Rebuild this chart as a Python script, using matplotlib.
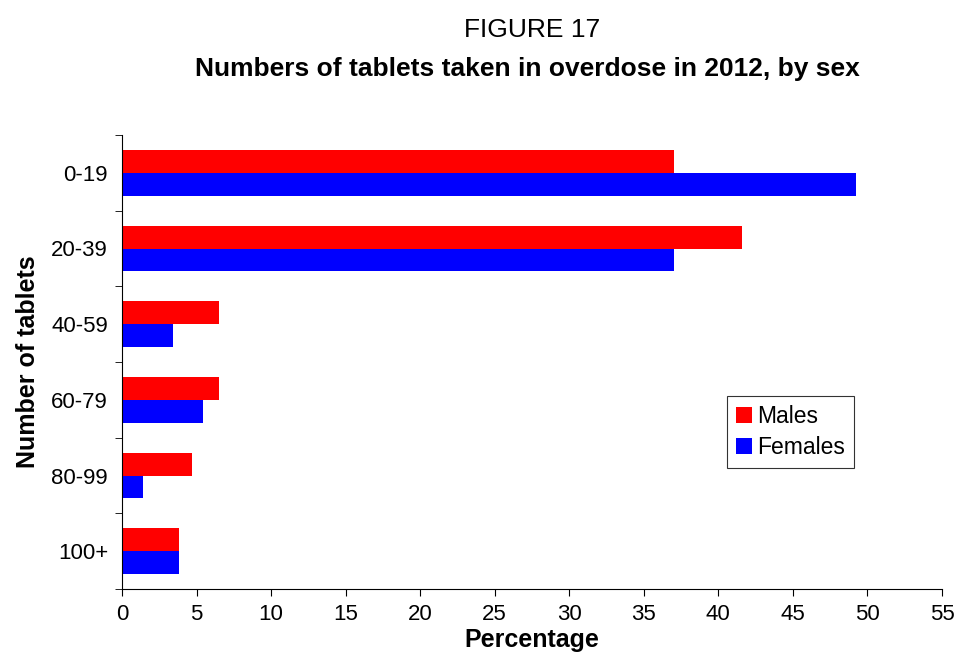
import matplotlib.pyplot as plt
import numpy as np

plt.rcParams['font.family'] = ['Liberation Sans', 'DejaVu Sans']

categories = ['0-19', '20-39', '40-59', '60-79', '80-99', '100+']
males = [37.0, 41.6, 6.5, 6.5, 4.7, 3.8]
females = [49.2, 37.0, 3.4, 5.4, 1.4, 3.8]

fig = plt.figure(figsize=(9.55, 6.58), dpi=100)
ax = fig.add_axes([122 / 955, 1 - 589 / 658, 820 / 955, 454 / 658])

y = np.arange(len(categories))
h = 0.3
ax.barh(y - h / 2, males, height=h, color='#ff0000', label='Males')
ax.barh(y + h / 2, females, height=h, color='#0000ff', label='Females')

ax.set_xlim(0, 55)
ax.set_ylim(len(categories) - 0.5, -0.5)
ax.set_xticks(np.arange(0, 56, 5))
ax.set_yticks(y)
ax.set_yticklabels(categories)
ax.set_yticks(np.arange(-0.5, len(categories)), minor=True)
ax.tick_params(axis='y', which='major', length=0, pad=10, labelsize=16)
ax.tick_params(axis='y', which='minor', length=5, direction='out')
ax.tick_params(axis='x', length=5, labelsize=16, pad=6)
for s in ['top', 'right']:
    ax.spines[s].set_visible(False)

ax.set_xlabel('Percentage', fontsize=18, fontweight='bold', labelpad=2)
ax.set_ylabel('Number of tablets', fontsize=18, fontweight='bold', labelpad=8)

fig.text(0.5 + 55 / 955, 1 - 30 / 658, 'FIGURE 17', ha='center', va='center', fontsize=19)
fig.text(0.5 + 50 / 955, 1 - 69 / 658, 'Numbers of tablets taken in overdose in 2012, by sex',
         ha='center', va='center', fontsize=19, fontweight='bold')

leg = ax.legend(loc='upper left', bbox_to_anchor=((727 - 122) / 820, 1 - (396 - 135) / 454),
                fontsize=16.5, frameon=True, fancybox=False, edgecolor='black',
                handlelength=0.7, handleheight=0.7, handletextpad=0.2, borderpad=0.4,
                labelspacing=0.35, borderaxespad=0)
leg.get_frame().set_linewidth(0.8)

fig.savefig('out.png', dpi=100)
